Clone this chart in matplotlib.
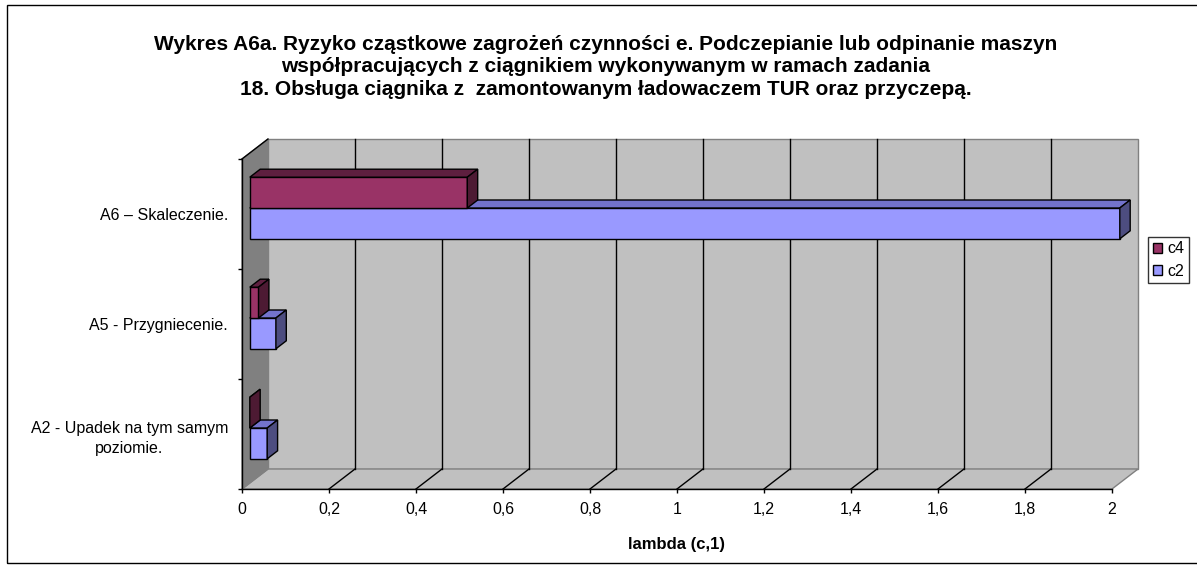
import numpy as np
import matplotlib
matplotlib.use('Agg')
import matplotlib.pyplot as plt
from matplotlib.patches import Polygon, Rectangle, Patch
from matplotlib.lines import Line2D
from matplotlib.transforms import IdentityTransform

# dane
categories = ['A2 - Upadek na tym samym\npoziomie.', 'A5 - Przygniecenie.', 'A6 \u2013 Skaleczenie.']
c4 = [0.0, 0.02, 0.5]
c2 = [0.04, 0.06, 2.0]
xticks = [0, 0.2, 0.4, 0.6, 0.8, 1.0, 1.2, 1.4, 1.6, 1.8, 2.0]
xticklabels = ['0', '0,2', '0,4', '0,6', '0,8', '1', '1,2', '1,4', '1,6', '1,8', '2']

title = ('Wykres A6a. Ryzyko cząstkowe zagrożeń czynności e. Podczepianie lub odpinanie maszyn\n'
         'współpracujących z ciągnikiem wykonywanym w ramach zadania\n'
         '18. Obsługa ciągnika z  zamontowanym ładowaczem TUR oraz przyczepą.')

plt.rcParams['font.family'] = ['Liberation Sans', 'DejaVu Sans']

W, H = 1197, 565
fig = plt.figure(figsize=(W / 100, H / 100), dpi=100)
ax = fig.add_axes([242 / W, (H - 489) / H, 870 / W, 330 / H])
ax.set_xlim(0, 2)
ax.set_ylim(-0.5, 2.5)
ax.patch.set_visible(False)
for s in ['top', 'right']:
    ax.spines[s].set_visible(False)
for s in ['left', 'bottom']:
    ax.spines[s].set_color('black')
    ax.spines[s].set_linewidth(1)
    ax.spines[s].set_zorder(20)

# glebokosc 3D (piksele)
DX, DY = 26, 20


def P(x, y, f):
    p = ax.transData.transform((x, y))
    return (p[0] + f * DX, p[1] + f * DY)


def poly(pts, fc, ec, z, lw=1.0):
    ax.add_patch(Polygon(pts, closed=True, facecolor=fc, edgecolor=ec, lw=lw,
                         transform=IdentityTransform(), clip_on=False, zorder=z))


def line(p1, p2, c, z, lw=1.0):
    ax.add_line(Line2D([p1[0], p2[0]], [p1[1], p2[1]], color=c, lw=lw,
                       transform=IdentityTransform(), clip_on=False, zorder=z))


x0, x1 = xticks[0], xticks[-1]
y0, y1 = -0.5, 2.5

# sciana tylna, lewa, podloga
poly([P(x0, y0, 1), P(x1, y0, 1), P(x1, y1, 1), P(x0, y1, 1)], '#C0C0C0', '#808080', 1)
poly([P(x0, y0, 0), P(x0, y0, 1), P(x0, y1, 1), P(x0, y1, 0)], '#808080', '#808080', 1.2)
line(P(x0, y1, 0), P(x0, y1, 1), 'black', 1.3)
poly([P(x0, y0, 0), P(x1, y0, 0), P(x1, y0, 1), P(x0, y0, 1)], '#C0C0C0', '#808080', 1.1)
for xv in xticks[1:-1]:
    line(P(xv, y0, 1), P(xv, y1, 1), 'black', 1.5)
    line(P(xv, y0, 0), P(xv, y0, 1), 'black', 1.5)

# slupki 3D
series = [(c2, '#9999FF', '#7373CC', '#4D4D80', -0.28, 0.0),
          (c4, '#993366', '#5E1F3F', '#4D1A33', 0.0, 0.28)]
f0, f1 = 0.3, 0.7
z = 3
for i in range(len(categories)):
    for vals, cf, ct, cs, b0, b1 in series:
        v = vals[i]
        ya, yb = i + b0, i + b1
        poly([P(0, ya, f0), P(v, ya, f0), P(v, yb, f0), P(0, yb, f0)], cf, 'black', z)
        poly([P(0, yb, f0), P(v, yb, f0), P(v, yb, f1), P(0, yb, f1)], ct, 'black', z)
        poly([P(v, ya, f0), P(v, yb, f0), P(v, yb, f1), P(v, ya, f1)], cs, 'black', z)
        z += 1

# osie
ax.set_xticks(xticks)
ax.set_xticklabels(xticklabels, fontsize=11.5)
ax.tick_params(axis='x', direction='out', length=3, width=1, pad=6, colors='black')
ax.set_yticks(range(len(categories)))
ax.set_yticklabels(categories, fontsize=11.5)
for lab in ax.get_yticklabels():
    lab.set_multialignment('center')
    lab.set_linespacing(1.45)
ax.set_yticks([-0.5, 0.5, 1.5, 2.5], minor=True)
ax.tick_params(axis='y', which='major', length=0, pad=10)
ax.tick_params(axis='y', which='minor', direction='out', length=3, width=1)

fig.text(606 / W, 1 - 67 / H, title, ha='center', va='center', fontsize=15,
         fontweight='bold', linespacing=1.22)
fig.text(677 / W, 1 - 544 / H, 'lambda (c,1)', ha='center', va='center',
         fontsize=12, fontweight='bold')

handles = [Patch(facecolor='#993366', edgecolor='black', label='c4'),
           Patch(facecolor='#9999FF', edgecolor='black', label='c2')]
leg = fig.legend(handles=handles, loc='center left',
                 bbox_to_anchor=(1148 / W, 1 - 260 / H), fontsize=11.5,
                 frameon=True, fancybox=False, edgecolor='black',
                 handlelength=0.6, handleheight=0.6, handletextpad=0.3,
                 borderpad=0.3, labelspacing=0.45, borderaxespad=0)
leg.get_frame().set_linewidth(1)

fig.add_artist(Rectangle((7 / W, 2 / H), 1.0, 1 - 7 / H, transform=fig.transFigure,
                         fill=False, edgecolor='black', lw=1))

fig.savefig('out.png', dpi=100)
